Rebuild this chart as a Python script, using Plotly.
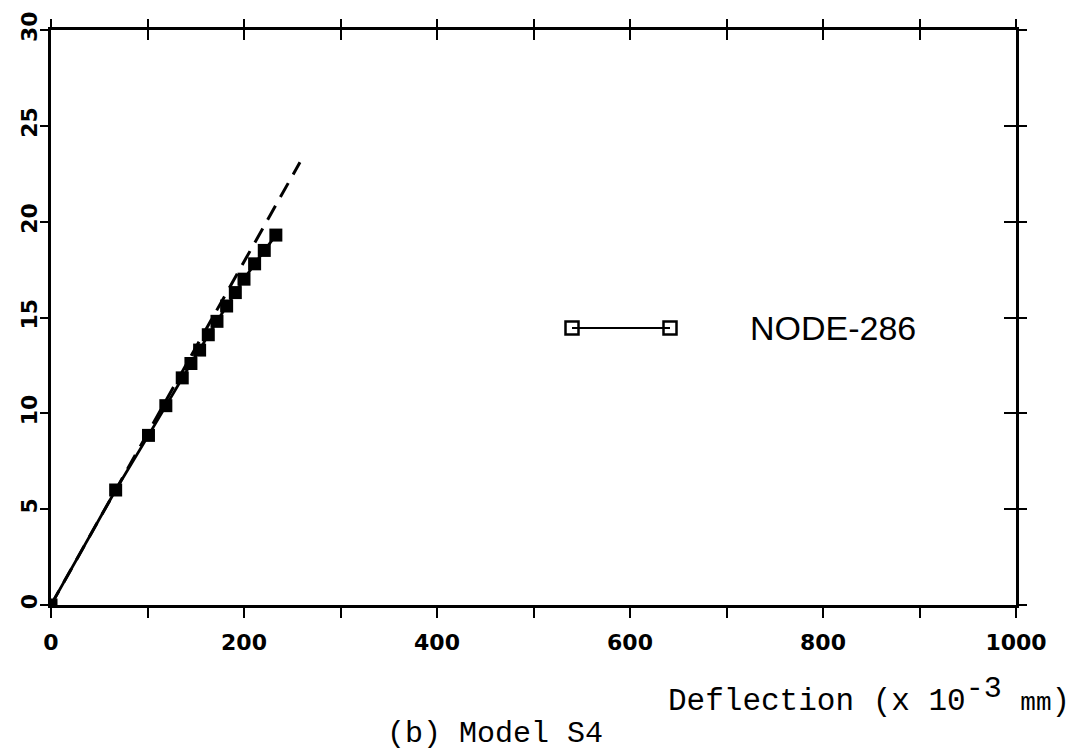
import plotly.graph_objects as go

# Load-deflection record for node 286, model S4
deflection = [0, 67, 101, 119, 136, 145, 154, 163, 172, 182, 191, 200, 211, 221, 233]
load = [0, 6.0, 8.85, 10.4, 11.85, 12.6, 13.3, 14.1, 14.8, 15.6, 16.3, 17.0, 17.8, 18.5, 19.3]

# Linear-elastic reference line
linear_x = [0, 258]
linear_y = [0, 23.1]

x_major = list(range(0, 1001, 200))
x_all = list(range(0, 1001, 100))
y_ticks = list(range(0, 31, 5))

series_name = "NODE-286"
x_title = ("Deflection (x 10<sup><span style='font-size:30px'>-3</span></sup>"
           " <span style='font-size:26px'>mm</span>)")
caption = "(b) Model S4"

W, H = 1075, 755
L, R, T, B = 51, 1016, 30, 605
pw, ph = R - L, B - T

def px(xp):
    return (xp - L) / pw

def py(yp):
    return (B - yp) / ph

tick_font = dict(family="DejaVu Sans", size=22, color="black", weight="bold")
mono = "Liberation Mono, Courier New, monospace"

fig = go.Figure()

fig.add_trace(go.Scatter(
    x=linear_x, y=linear_y, mode="lines",
    line=dict(color="black", width=3, dash="16px,10px"),
    showlegend=False, hoverinfo="skip",
))
fig.add_trace(go.Scatter(
    x=deflection, y=load, mode="lines+markers", name=series_name,
    line=dict(color="black", width=2.8),
    marker=dict(symbol="square", size=13, color="black"),
    showlegend=False,
))

# empty traces so the mirrored tick axes get drawn
fig.add_trace(go.Scatter(x=[], y=[], xaxis="x2", yaxis="y2", showlegend=False))
fig.add_trace(go.Scatter(x=[], y=[], xaxis="x3", yaxis="y3", showlegend=False))

# legend key: a short line between two open squares
fig.add_trace(go.Scatter(
    x=[0, 1], y=[0, 0], xaxis="x4", yaxis="y4", mode="lines+markers",
    line=dict(color="black", width=2),
    marker=dict(symbol="square-open", size=13, color="black", line=dict(width=2.5)),
    cliponaxis=False, showlegend=False, hoverinfo="skip",
))

common_x = dict(range=[0, 1000], showgrid=False, zeroline=False,
                tickcolor="black", tickwidth=2)
common_y = dict(range=[0, 30], tickvals=y_ticks, showgrid=False, zeroline=False,
                tickcolor="black", tickwidth=2)

key_y = py(328)

fig.update_layout(
    width=W, height=H, autosize=False,
    margin=dict(l=L, r=W - R, t=T, b=H - B, pad=0),
    paper_bgcolor="white", plot_bgcolor="white",
    xaxis=dict(**common_x, tickvals=x_major, ticks="outside", ticklen=10,
               minor=dict(tickvals=x_all, ticks="outside", ticklen=10,
                          tickcolor="black", tickwidth=2, showgrid=False),
               showline=True, linecolor="black", linewidth=2.5, mirror=True,
               tickfont=tick_font, ticklabelstandoff=6, anchor="y"),
    yaxis=dict(**common_y, ticks="outside", ticklen=8, tickangle=-90,
               showline=True, linecolor="black", linewidth=2.5, mirror=True,
               tickfont=tick_font, ticklabelstandoff=-6, anchor="x"),
    xaxis2=dict(**common_x, tickvals=x_all, overlaying="x", side="top",
                ticks="outside", ticklen=10,
                showticklabels=False, showline=False, anchor="y2"),
    yaxis2=dict(**common_y, overlaying="y", side="right", ticks="outside", ticklen=10,
                showticklabels=False, showline=False, anchor="x2"),
    xaxis3=dict(**common_x, tickvals=x_all, overlaying="x", side="top",
                ticks="inside", ticklen=10,
                showticklabels=False, showline=False, anchor="y3"),
    yaxis3=dict(**common_y, overlaying="y", side="right", ticks="inside", ticklen=12,
                showticklabels=False, showline=False, anchor="x3"),
    xaxis4=dict(domain=[px(572), px(670)], range=[0, 1], visible=False, anchor="y4"),
    yaxis4=dict(domain=[key_y - 0.02, key_y + 0.02], range=[-1, 1], visible=False, anchor="x4"),
    annotations=[
        dict(text=series_name, xref="paper", yref="paper", x=px(748), y=key_y,
             xanchor="left", yanchor="middle", showarrow=False,
             font=dict(family="Liberation Sans", size=34, color="black")),
        dict(text=x_title, xref="paper", yref="paper", x=px(1072), y=py(695),
             xanchor="right", yanchor="middle", showarrow=False,
             font=dict(family=mono, size=31, color="black")),
        dict(text=caption, xref="paper", yref="paper", x=px(385), y=py(734),
             xanchor="left", yanchor="middle", showarrow=False,
             font=dict(family=mono, size=30, color="black")),
    ],
)

fig.write_html("out.html")
